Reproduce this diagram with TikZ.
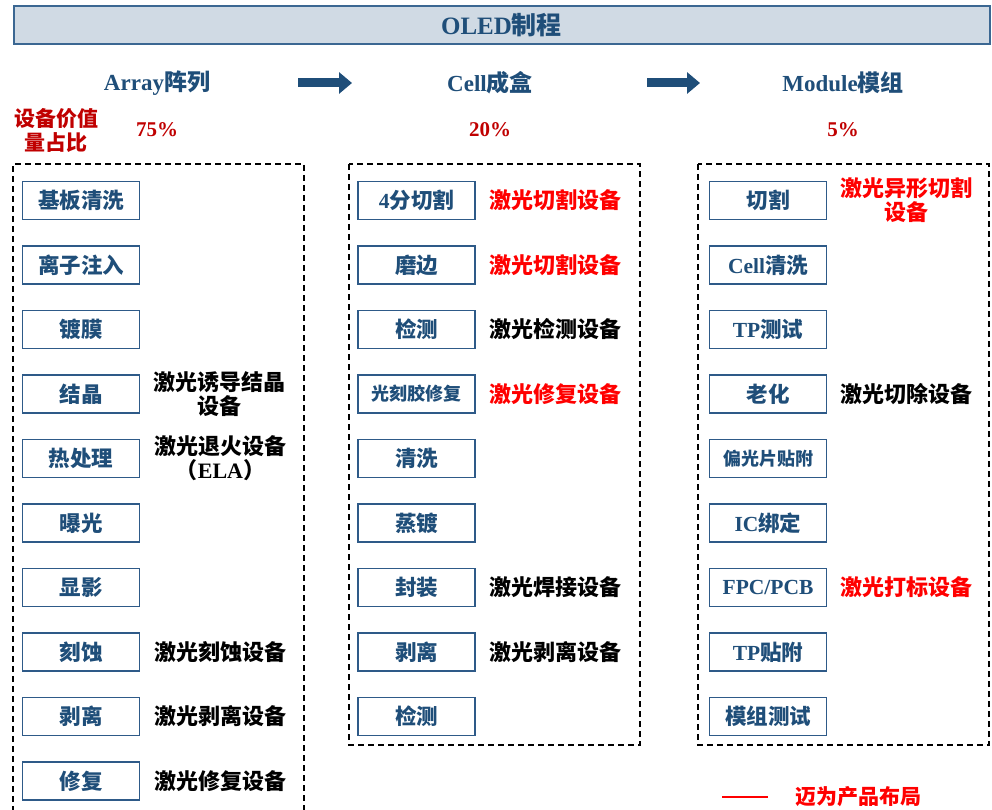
\documentclass[tikz,border=0pt]{standalone}
\usepackage{fontspec}
\setmainfont{Noto Sans CJK SC}
\newfontfamily\enf{Liberation Serif}
\usetikzlibrary{arrows.meta,positioning}

\definecolor{hdrfill}{HTML}{D0DAE4}
\definecolor{hdrline}{HTML}{3B6792}
\definecolor{navy}{HTML}{1F4E79}
\definecolor{boxline}{HTML}{2E5A88}
\definecolor{pctred}{HTML}{C00000}
\definecolor{mwred}{HTML}{FF0000}
\newcommand{\fsz}[2]{\bfseries\fontsize{#1}{#2}\selectfont}

\begin{document}
\begin{tikzpicture}[
    x=1pt, y=-1pt,
    stage/.style={draw=boxline, line width=1.5pt, fill=white, minimum width=117pt, minimum height=38pt, inner sep=0pt, text=navy, font=\fsz{21.5}{24}},
    small/.style={font=\fsz{18}{20}},
    eqp/.style={align=center, inner sep=0pt, font=\fsz{22}{24}},
    hot/.style={eqp, text=mwred},
    phase/.style={text=navy, font=\fsz{23}{26}},
    pct/.style={text=pctred, font=\fsz{21}{24}},
    group/.style={line width=1.3pt, dash pattern=on 6pt off 4pt},
    flow/.style={line width=9pt, draw=navy, -{Triangle[length=13pt,width=21pt]}}
]
    \useasboundingbox (0,0) rectangle (992,810);

    % header and phases
    \node[draw=hdrline, line width=2pt, fill=hdrfill, minimum width=976pt, minimum height=38pt, text=navy, font=\fsz{25}{28}] (title) at (501.5,25) {{\enf OLED}制程};
    \node[phase] (array) at (157,83) {{\enf Array}阵列};
    \node[phase] (cell) at (490,83) {{\enf Cell}成盒};
    \node[phase] (module) at (843,83) {{\enf Module}模组};
    \coordinate (f1a) at (298,83);
    \coordinate (f1b) at (352,83);
    \coordinate (f2a) at (647,83);
    \coordinate (f2b) at (700,83);
    \draw[flow] (f1a) -- (f1b);
    \draw[flow] (f2a) -- (f2b);

    \node[pct, align=center] (share) at (56,130) {设备价值\\量占比};
    \node[pct] (array-pct) at (157,130) {{\enf 75\%}};
    \node[pct] (cell-pct) at (490,130) {{\enf 20\%}};
    \node[pct] (module-pct) at (843,130) {{\enf 5\%}};

    % dashed groups
    \draw[group] (13,812) -- (13,164) -- (304,164) -- (304,812);
    \draw[group] (349,164) rectangle (640,745);
    \draw[group] (698,164) rectangle (989,745);

    % Array
    \node[stage] (substrate) at (81,200.5) {基板清洗};
    \node[stage, below=25pt of substrate] (implant) {离子注入};
    \node[stage, below=25pt of implant] (coating) {镀膜};
    \node[stage, below=25pt of coating] (cryst) {结晶};
    \node[stage, below=25pt of cryst] (anneal) {热处理};
    \node[stage, below=25pt of anneal] (expose) {曝光};
    \node[stage, below=25pt of expose] (develop) {显影};
    \node[stage, below=25pt of develop] (etch) {刻蚀};
    \node[stage, below=25pt of etch] (strip) {剥离};
    \node[stage, below=25pt of strip] (repair) {修复};

    \node[eqp, right=13pt of cryst] (cryst-eq) {激光诱导结晶\\设备};
    \node[eqp, right=14pt of anneal] (anneal-eq) {激光退火设备\\（{\enf ELA}）};
    \node[eqp, right=14pt of etch] (etch-eq) {激光刻蚀设备};
    \node[eqp, right=14pt of strip] (strip-eq) {激光剥离设备};
    \node[eqp, right=14pt of repair] (repair-eq) {激光修复设备};

    % Cell
    \node[stage] (cut) at (416.5,200.5) {{\enf 4}分切割};
    \node[stage, below=25pt of cut] (grind) {磨边};
    \node[stage, below=25pt of grind] (inspect) {检测};
    \node[stage, small, below=25pt of inspect] (pr) {光刻胶修复};
    \node[stage, below=25pt of pr] (wash) {清洗};
    \node[stage, below=25pt of wash] (evap) {蒸镀};
    \node[stage, below=25pt of evap] (encap) {封装};
    \node[stage, below=25pt of encap] (liftoff) {剥离};
    \node[stage, below=25pt of liftoff] (check) {检测};

    \node[hot, right=14pt of cut] (cut-eq) {激光切割设备};
    \node[hot, right=14pt of grind] (grind-eq) {激光切割设备};
    \node[eqp, right=14pt of inspect] (inspect-eq) {激光检测设备};
    \node[hot, right=14pt of pr] (pr-eq) {激光修复设备};
    \node[eqp, right=14pt of encap] (encap-eq) {激光焊接设备};
    \node[eqp, right=14pt of liftoff] (liftoff-eq) {激光剥离设备};

    % Module
    \node[stage] (mcut) at (768,200.5) {切割};
    \node[stage, below=25pt of mcut] (cclean) {{\enf Cell}清洗};
    \node[stage, below=25pt of cclean] (tptest) {{\enf TP}测试};
    \node[stage, below=25pt of tptest] (aging) {老化};
    \node[stage, small, below=25pt of aging] (pol) {偏光片贴附};
    \node[stage, below=25pt of pol] (ic) {{\enf IC}绑定};
    \node[stage, below=25pt of ic] (fpc) {{\enf FPC/PCB}};
    \node[stage, below=25pt of fpc] (tpbond) {{\enf TP}贴附};
    \node[stage, below=25pt of tpbond] (modtest) {模组测试};

    \node[hot, right=13pt of mcut] (mcut-eq) {激光异形切割\\设备};
    \node[eqp, right=13pt of aging] (aging-eq) {激光切除设备};
    \node[hot, right=13pt of fpc] (fpc-eq) {激光打标设备};

    % legend
    \node[font=\fsz{21}{24}, text=mwred] (legend) at (858,797) {迈为产品布局};
    \coordinate (leg-start) at (722,797);
    \draw[mwred, line width=2.5pt] (leg-start) -- ++(46,0);
\end{tikzpicture}
\end{document}
